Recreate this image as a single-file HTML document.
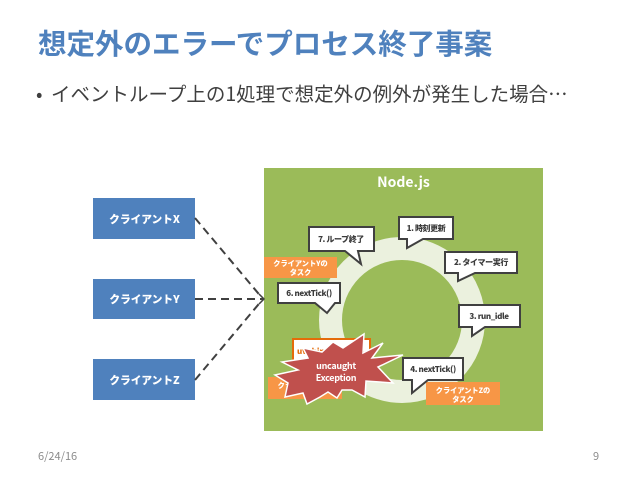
<!DOCTYPE html>
<html lang="ja">
<head>
<meta charset="utf-8">
<style>
html,body{margin:0;padding:0;background:#fff;}
body{width:638px;height:479px;overflow:hidden;}
svg{display:block;filter:blur(.35px);}
text{font-family:"Noto Sans CJK JP","Liberation Sans",sans-serif;}
.w{fill:#fff;font-weight:900;text-anchor:middle;}
.c{fill:#3c3c3c;font-weight:900;text-anchor:middle;font-size:8px;letter-spacing:-.4px;}
.b{fill:#fff;stroke:#404040;stroke-width:2;}
</style>
</head>
<body>
<svg width="638" height="479" viewBox="0 0 638 479" xmlns="http://www.w3.org/2000/svg">
<text x="38" y="54" font-size="28.5" font-weight="700" fill="#4f81bd">想定外のエラーでプロセス終了事案</text>
<text x="36" y="101" font-size="19" fill="#3f3f3f">•</text>
<text x="51" y="101" font-size="19.5" fill="#3f3f3f">イベントループ上の1処理で想定外の例外が発生した場合…</text>

<rect x="264" y="168" width="279" height="263" fill="#9bbb59"/>
<text x="403.5" y="187" font-size="14" class="w" style="font-weight:700">Node.js</text>
<circle cx="402" cy="320" r="71.5" fill="none" stroke="#ebf1de" stroke-width="23"/>

<rect x="93" y="198" width="102" height="41" fill="#4f81bd"/>
<text x="144.500" y="223" font-size="10.700" class="w">クライアントX</text>
<rect x="93" y="279" width="102" height="40" fill="#4f81bd"/>
<text x="144.500" y="303" font-size="10.700" class="w">クライアントY</text>
<rect x="93" y="359" width="102" height="41" fill="#4f81bd"/>
<text x="144.500" y="384" font-size="10.700" class="w">クライアントZ</text>

<g fill="none" stroke="#404040" stroke-width="2" stroke-dasharray="8 5">
<path d="M195 218L263 299"/>
<path d="M195 299H263"/>
<path d="M195 380L263 299"/>
</g>
<path d="M259 294L264 299L259 304" fill="none" stroke="#404040" stroke-width="1.500"/>

<rect x="264" y="257" width="73" height="21" fill="#f79646"/>
<text x="300.500" y="266" font-size="7.200" class="w">クライアントYの</text>
<text x="300.500" y="275" font-size="7.200" class="w">タスク</text>
<rect x="426" y="382" width="74" height="23" fill="#f79646"/>
<text x="463" y="393" font-size="7.200" class="w">クライアントZの</text>
<text x="463" y="402" font-size="7.200" class="w">タスク</text>
<rect x="268" y="377" width="74" height="22" fill="#f79646"/>
<text x="305" y="388" font-size="7.200" class="w">クライアントXの</text>

<path class="b" d="M399 217H453V239H423L407 248V239H399Z"/>
<text x="426" y="231" class="c">1. 時刻更新</text>
<path class="b" d="M309 227H374V251H358L361 264L345 251H309Z"/>
<text x="341" y="242" class="c">7. ループ終了</text>
<path class="b" d="M445 252H517V273H475L458 281V273H445Z"/>
<text x="481" y="265" class="c">2. タイマー実行</text>
<path class="b" d="M278 283H340V303H335L327 313L315 303H278Z"/>
<text x="309" y="296" class="c">6. nextTick()</text>
<path class="b" d="M459 305H520V327H485L472 336V327H459Z"/>
<text x="489" y="319" class="c">3. run_idle</text>

<rect x="293" y="339" width="77" height="24" fill="#fff" stroke="#e46c0a" stroke-width="2"/>
<text x="331" y="354" font-size="8" font-weight="900" fill="#e46c0a" text-anchor="middle">uv_bind/イベント</text>

<path d="M364 334L363 353L383 343L372 358L403 355L378 367L393 383L366 381L365 397L352 390L342 390L337 398L328 392L320 397L307 404L303 393L285 397L288 383L275 375L298 370L282 362L308 358L303 348L322 352L333 342L343 348Z" fill="#c0504d" stroke="#fff" stroke-width="1.500"/>
<text x="336" y="369" font-size="9" letter-spacing="-.3" class="w" style="font-weight:700">uncaught</text>
<text x="336" y="381" font-size="9" letter-spacing="-.3" class="w" style="font-weight:700">Exception</text>

<path class="b" d="M403 358H463V380H428L412 393V380H403Z"/>
<text x="433" y="372" class="c">4. nextTick()</text>

<text x="38" y="460" font-size="11" fill="#8b8b8b">6/24/16</text>
<text x="593" y="460" font-size="11" fill="#8b8b8b">9</text>
</svg>
</body>
</html>
